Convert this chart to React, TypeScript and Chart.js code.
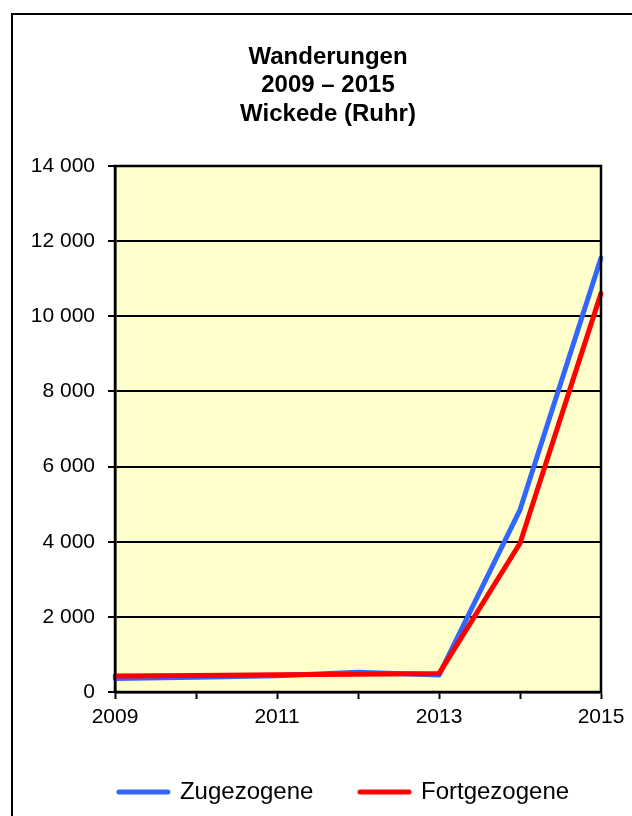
import React, { useEffect, useRef } from "react";
import { Chart, registerables } from "chart.js";

Chart.register(...registerables);

// ---- data ----
const years = ["2009", "2010", "2011", "2012", "2013", "2014", "2015"];
const shownYears = ["2009", "2011", "2013", "2015"];
const zugezogene = [360, 395, 430, 525, 450, 4850, 11550];
const fortgezogene = [425, 440, 460, 475, 490, 3960, 10610];
const seriesNames = ["Zugezogene", "Fortgezogene"];
const seriesColors = ["#3366FF", "#FF0000"];
const titleLines = ["Wanderungen", "2009 – 2015", "Wickede (Ruhr)"];
const yMin = 0;
const yMax = 14000;
const yStep = 2000;

const FONT = '"Liberation Sans", Arial, sans-serif';

const formatThousands = (v: number) =>
  String(v).replace(/\B(?=(\d{3})+(?!\d))/g, " ");

const framePlugin = {
  id: "frame",
  beforeDraw(chart: any) {
    const { ctx, chartArea: a, width, height } = chart;
    ctx.save();
    ctx.fillStyle = "#FFFFCC";
    ctx.fillRect(a.left, a.top, a.right - a.left, a.bottom - a.top);
    ctx.strokeStyle = "#000";
    ctx.lineWidth = 2;
    ctx.strokeRect(1, 1, width - 2, height - 2);
    ctx.restore();
  },
  afterDraw(chart: any) {
    const { ctx, chartArea: a } = chart;
    ctx.save();
    ctx.strokeStyle = "#000";
    ctx.lineWidth = 2.5;
    ctx.strokeRect(a.left, a.top, a.right - a.left, a.bottom - a.top);
    ctx.restore();
  },
};

// horizontal placement of the title and legend boxes
const boxShift = {
  id: "boxShift",
  afterLayout(chart: any) {
    const t = chart.titleBlock;
    if (t) {
      t.left += 15;
      t.right += 15;
    }
    const lg = chart.legend;
    if (lg) {
      lg.left += 31;
      lg.right += 31;
    }
  },
};

export default function App() {
  const ref = useRef<HTMLCanvasElement | null>(null);

  useEffect(() => {
    if (!ref.current) return;
    const chart = new Chart(ref.current, {
      type: "line",
      data: {
        labels: years,
        datasets: [
          {
            label: seriesNames[0],
            data: zugezogene,
            borderColor: seriesColors[0],
            backgroundColor: seriesColors[0],
            borderWidth: 5,
            pointRadius: 0,
            tension: 0,
            borderJoinStyle: "round",
            borderCapStyle: "round",
            order: 1,
          },
          {
            label: seriesNames[1],
            data: fortgezogene,
            borderColor: seriesColors[1],
            backgroundColor: seriesColors[1],
            borderWidth: 5,
            pointRadius: 0,
            tension: 0,
            borderJoinStyle: "round",
            borderCapStyle: "round",
            order: 0,
          },
        ],
      },
      options: {
        responsive: false,
        animation: false,
        devicePixelRatio: 1,
        layout: { padding: { left: 14, right: 44, top: 0, bottom: 34 } },
        plugins: {
          title: {
            display: true,
            text: titleLines,
            color: "#000",
            font: { family: FONT, size: 24, weight: "bold", lineHeight: 1.2 },
            padding: { top: 29.6, bottom: 37 },
          },
          legend: {
            display: true,
            position: "bottom",
            labels: {
              color: "#000",
              font: { family: FONT, size: 24 },
              boxWidth: 49,
              boxHeight: 0,
              padding: 46.6,
              sort: (a: any, b: any) => a.datasetIndex - b.datasetIndex,
            },
          },
          tooltip: { enabled: false },
        },
        scales: {
          x: {
            type: "category",
            offset: false,
            afterFit: (s: any) => {
              s.height = 41.4;
            },
            grid: {
              display: true,
              drawOnChartArea: false,
              drawTicks: true,
              tickLength: 7,
              tickWidth: 2,
              tickColor: "#000",
              color: "#000",
            },
            border: { display: true, color: "#000", width: 2.5 },
            ticks: {
              autoSkip: false,
              maxRotation: 0,
              minRotation: 0,
              padding: 6,
              color: "#000",
              font: { family: FONT, size: 21 },
              callback: (_v: any, i: number) =>
                shownYears.includes(years[i]) ? years[i] : "",
            },
          },
          y: {
            min: yMin,
            max: yMax,
            afterFit: (s: any) => {
              s.width = 90;
            },
            grid: {
              display: true,
              color: "#000",
              lineWidth: 2,
              drawTicks: true,
              tickLength: 7,
              tickWidth: 2,
              tickColor: "#000",
            },
            border: { display: true, color: "#000", width: 2.5 },
            ticks: {
              stepSize: yStep,
              padding: 13,
              color: "#000",
              font: { family: FONT, size: 21 },
              callback: (v: any) => formatThousands(Number(v)),
            },
          },
        },
      },
      plugins: [framePlugin, boxShift],
    } as any);
    return () => chart.destroy();
  }, []);

  return (
    <div
      style={{
        position: "fixed",
        left: 0,
        top: 0,
        width: 632,
        height: 816,
        overflow: "hidden",
        background: "#fff",
      }}
    >
      <canvas
        ref={ref}
        width={634}
        height={835}
        style={{ position: "absolute", left: 11, top: 13, width: 634, height: 835 }}
      />
    </div>
  );
}
